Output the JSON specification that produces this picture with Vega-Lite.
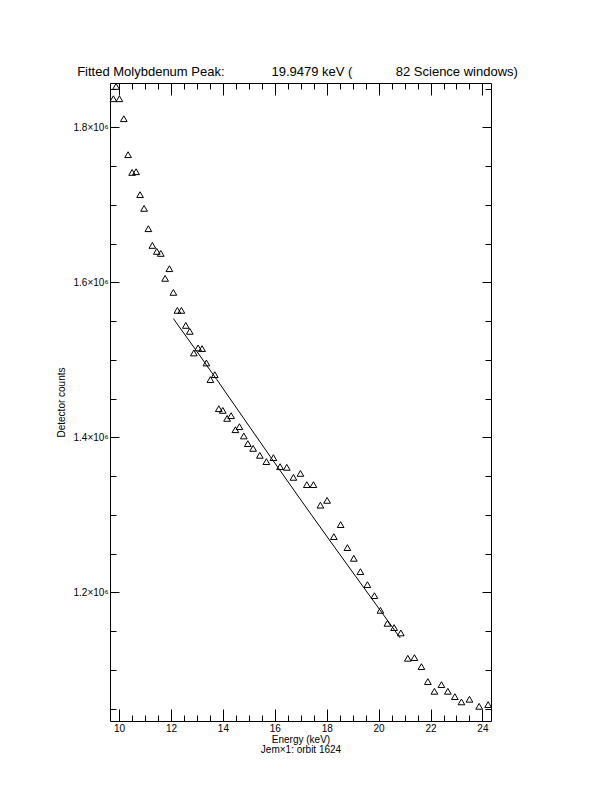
{
  "$schema": "https://vega.github.io/schema/vega-lite/v6.json",
  "width": 381,
  "height": 638,
  "autosize": {"type": "none"},
  "padding": {"left": 110, "top": 83, "right": 121, "bottom": 71},
  "background": "white",
  "title": {
    "text": "Fitted Molybdenum Peak:\u00a0\u00a0\u00a0\u00a0\u00a0\u00a0\u00a0\u00a0\u00a0\u00a0\u00a0\u00a0\u00a019.9479 keV (\u00a0\u00a0\u00a0\u00a0\u00a0\u00a0\u00a0\u00a0\u00a0\u00a0\u00a0\u00a082 Science windows)",
    "font": "Liberation Sans",
    "fontSize": 13,
    "fontWeight": "normal",
    "color": "black",
    "anchor": "middle",
    "dx": -3,
    "offset": 3
  },
  "config": {
    "view": {"stroke": null},
    "axis": {
      "grid": false,
      "domainColor": "black",
      "domainWidth": 1,
      "tickColor": "black",
      "tickWidth": 1,
      "labelColor": "black",
      "titleColor": "black",
      "labelFont": "Liberation Sans",
      "titleFont": "Liberation Sans",
      "labelFontSize": 10,
      "titleFontSize": 10,
      "titleFontWeight": "normal",
      "labelFlush": false,
      "labelOverlap": false
    }
  },
  "datasets": {
    "pts": [
      {"energy": 9.884, "counts": 1852900},
      {"energy": 9.780, "counts": 1837000},
      {"energy": 10.012, "counts": 1837000},
      {"energy": 10.181, "counts": 1811200},
      {"energy": 10.347, "counts": 1764800},
      {"energy": 10.501, "counts": 1741900},
      {"energy": 10.655, "counts": 1742800},
      {"energy": 10.809, "counts": 1713200},
      {"energy": 10.963, "counts": 1695500},
      {"energy": 11.129, "counts": 1669300},
      {"energy": 11.283, "counts": 1647700},
      {"energy": 11.453, "counts": 1640000},
      {"energy": 11.607, "counts": 1637400},
      {"energy": 11.773, "counts": 1605200},
      {"energy": 11.938, "counts": 1617700},
      {"energy": 12.092, "counts": 1587100},
      {"energy": 12.247, "counts": 1563900},
      {"energy": 12.401, "counts": 1563900},
      {"energy": 12.570, "counts": 1544500},
      {"energy": 12.724, "counts": 1536800},
      {"energy": 12.879, "counts": 1508900},
      {"energy": 13.044, "counts": 1515400},
      {"energy": 13.198, "counts": 1514500},
      {"energy": 13.364, "counts": 1496000},
      {"energy": 13.518, "counts": 1474500},
      {"energy": 13.688, "counts": 1480900},
      {"energy": 13.842, "counts": 1437000},
      {"energy": 13.996, "counts": 1434800},
      {"energy": 14.162, "counts": 1424500},
      {"energy": 14.316, "counts": 1428000},
      {"energy": 14.482, "counts": 1409900},
      {"energy": 14.636, "counts": 1413800},
      {"energy": 14.805, "counts": 1401800},
      {"energy": 14.960, "counts": 1391900},
      {"energy": 15.164, "counts": 1385800},
      {"energy": 15.422, "counts": 1376800},
      {"energy": 15.676, "counts": 1368700},
      {"energy": 15.946, "counts": 1373800},
      {"energy": 16.204, "counts": 1362200},
      {"energy": 16.462, "counts": 1361300},
      {"energy": 16.717, "counts": 1348400},
      {"energy": 16.987, "counts": 1353500},
      {"energy": 17.233, "counts": 1339000},
      {"energy": 17.488, "counts": 1339000},
      {"energy": 17.757, "counts": 1312500},
      {"energy": 18.015, "counts": 1318700},
      {"energy": 18.274, "counts": 1271900},
      {"energy": 18.536, "counts": 1287400},
      {"energy": 18.798, "counts": 1257700},
      {"energy": 19.044, "counts": 1243900},
      {"energy": 19.299, "counts": 1226700},
      {"energy": 19.568, "counts": 1209900},
      {"energy": 19.838, "counts": 1195700},
      {"energy": 20.069, "counts": 1176800},
      {"energy": 20.339, "counts": 1160000},
      {"energy": 20.597, "counts": 1154500},
      {"energy": 20.855, "counts": 1147600},
      {"energy": 21.125, "counts": 1114900},
      {"energy": 21.380, "counts": 1115800},
      {"energy": 21.649, "counts": 1104100},
      {"energy": 21.896, "counts": 1084800},
      {"energy": 22.150, "counts": 1072300},
      {"energy": 22.420, "counts": 1080900},
      {"energy": 22.667, "counts": 1072300},
      {"energy": 22.937, "counts": 1065400},
      {"energy": 23.191, "counts": 1058600},
      {"energy": 23.499, "counts": 1062000},
      {"energy": 23.873, "counts": 1052900},
      {"energy": 24.220, "counts": 1055100}
    ],
    "fit": [
      {"energy": 12.092, "counts": 1553200},
      {"energy": 12.994, "counts": 1511000},
      {"energy": 13.765, "counts": 1474500},
      {"energy": 15.819, "counts": 1375500},
      {"energy": 16.975, "counts": 1320500},
      {"energy": 18.324, "counts": 1257300},
      {"energy": 20.829, "counts": 1141200}
    ]
  },
  "layer": [
    {
      "data": {"name": "pts"},
      "mark": {"type": "point", "shape": "triangle-up", "filled": false, "stroke": "black", "strokeWidth": 1, "size": 45, "opacity": 1},
      "encoding": {
        "x": {
          "field": "energy", "type": "quantitative",
          "scale": {"domain": [9.65, 24.33], "nice": false, "zero": false},
          "axis": {
            "orient": "bottom",
            "values": [10,10.5,11,11.5,12,12.5,13,13.5,14,14.5,15,15.5,16,16.5,17,17.5,18,18.5,19,19.5,20,20.5,21,21.5,22,22.5,23,23.5,24],
            "labelExpr": "datum.value % 2 === 0 ? format(datum.value, 'd') : ''",
            "tickSize": {"condition": {"test": "datum.value % 2 === 0", "value": -12}, "value": -6},
            "labelPadding": 14,
            "title": ["Energy (keV)", "Jem×1: orbit 1624"],
            "titlePadding": -5,
            "titleLineHeight": 10
          }
        },
        "y": {
          "field": "counts", "type": "quantitative",
          "scale": {"domain": [1033940, 1857300], "nice": false, "zero": false},
          "axis": {
            "orient": "left",
            "values": [1050000,1100000,1150000,1200000,1250000,1300000,1350000,1400000,1450000,1500000,1550000,1600000,1650000,1700000,1750000,1800000,1850000],
            "labelExpr": "datum.value % 200000 === 0 ? format(datum.value / 1000000, '.1f') + '×10⁶' : ''",
            "tickSize": {"condition": {"test": "datum.value % 200000 === 0", "value": -9}, "value": -6},
            "labelPadding": 11,
            "title": "Detector counts",
            "titlePadding": 7
          }
        }
      }
    },
    {
      "data": {"name": "fit"},
      "mark": {"type": "line", "color": "black", "strokeWidth": 1},
      "encoding": {
        "x": {
          "field": "energy", "type": "quantitative",
          "scale": {"domain": [9.65, 24.33], "nice": false, "zero": false},
          "axis": {
            "orient": "top",
            "values": [10,10.5,11,11.5,12,12.5,13,13.5,14,14.5,15,15.5,16,16.5,17,17.5,18,18.5,19,19.5,20,20.5,21,21.5,22,22.5,23,23.5,24],
            "labels": false,
            "tickSize": {"condition": {"test": "datum.value % 2 === 0", "value": -12}, "value": -6},
            "title": null
          }
        },
        "y": {
          "field": "counts", "type": "quantitative",
          "scale": {"domain": [1033940, 1857300], "nice": false, "zero": false},
          "axis": {
            "orient": "right",
            "values": [1050000,1100000,1150000,1200000,1250000,1300000,1350000,1400000,1450000,1500000,1550000,1600000,1650000,1700000,1750000,1800000,1850000],
            "labels": false,
            "tickSize": {"condition": {"test": "datum.value % 200000 === 0", "value": -9}, "value": -6},
            "title": null
          }
        }
      }
    }
  ],
  "resolve": {"axis": {"x": "independent", "y": "independent"}}
}
